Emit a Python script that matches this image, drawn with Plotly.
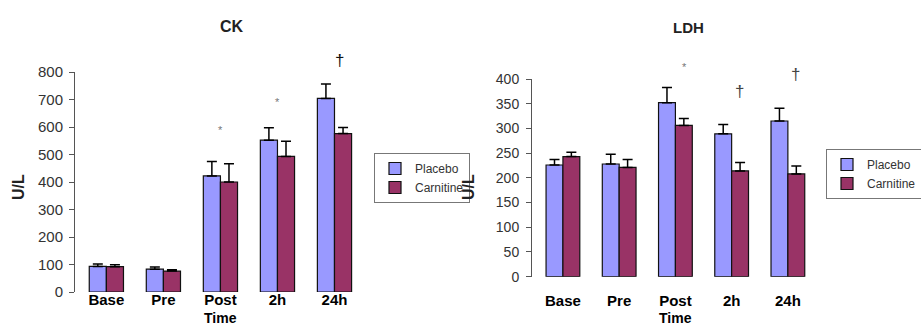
import plotly.graph_objects as go

W, H = 921, 327

categories = ["Base", "Pre", "Post", "2h", "24h"]

ck_placebo = [93, 83, 422, 552, 704]
ck_placebo_err = [9, 8, 53, 45, 52]
ck_carnitine = [92, 76, 400, 493, 576]
ck_carnitine_err = [7, 5, 66, 55, 22]
ck_sig_labels = ["", "", "*", "*", "†"]
ck_sig_y = [0, 0, 590, 690, 843]
ck_range = [0, 800]

ldh_placebo = [226, 228, 352, 289, 315]
ldh_placebo_err = [11, 20, 31, 19, 26]
ldh_carnitine = [243, 221, 306, 214, 208]
ldh_carnitine_err = [9, 16, 14, 17, 16]
ldh_sig_labels = ["", "", "*", "†", "†"]
ldh_sig_y = [0, 0, 425, 374, 410]
ldh_range = [0, 400]

PLACEBO = "#9999FF"
CARN = "#993366"
FONT = "Liberation Sans, Arial, sans-serif"

fig = go.Figure()

def add_bars(vals, errs, name, color, xa, ya, legend):
    fig.add_trace(go.Bar(
        x=categories, y=vals, name=name, xaxis=xa, yaxis=ya, legend=legend,
        marker=dict(color=color, line=dict(color="#111", width=1.2)),
        error_y=dict(type="data", array=errs, arrayminus=[0]*len(errs), symmetric=False,
                     color="black", thickness=1.5, width=5),
    ))

add_bars(ck_placebo, ck_placebo_err, "Placebo", PLACEBO, "x", "y", "legend")
add_bars(ck_carnitine, ck_carnitine_err, "Carnitine", CARN, "x", "y", "legend")
add_bars(ldh_placebo, ldh_placebo_err, "Placebo", PLACEBO, "x2", "y2", "legend2")
add_bars(ldh_carnitine, ldh_carnitine_err, "Carnitine", CARN, "x2", "y2", "legend2")

def px_x(p):
    return p / W

def px_y(p):
    return 1 - p / H

yaxis_common = dict(showgrid=False, zeroline=False, showline=True, linecolor="#555", linewidth=1,
                    automargin=False)
xaxis_common = dict(showgrid=False, zeroline=False, showline=False, automargin=False)

xcat_range = [-0.55, len(categories) - 0.5]

fig.update_layout(
    width=W, height=H, margin=dict(l=0, r=0, t=0, b=0, autoexpand=False),
    paper_bgcolor="white", plot_bgcolor="white",
    barmode="group", bargap=0.4, bargroupgap=0,
    font=dict(family=FONT, color="#222"),
    xaxis=dict(domain=[px_x(75), px_x(363)], anchor="y", range=xcat_range, **xaxis_common,
               ticks="", tickfont=dict(size=15, family=FONT, color="black", weight="bold"),
               ticklabelstandoff=-3),
    yaxis=dict(domain=[px_y(292), px_y(72)], anchor="x", range=ck_range, dtick=100, **yaxis_common,
               ticks="outside", ticklen=5, tickcolor="#555", ticklabelstandoff=3,
               tickfont=dict(size=15, family=FONT, color="#333")),
    xaxis2=dict(domain=[px_x(532), px_x(816)], anchor="y2", range=xcat_range, **xaxis_common,
                ticks="", tickfont=dict(size=15, family=FONT, color="black", weight="bold"),
                ticklabelstandoff=13),
    yaxis2=dict(domain=[px_y(276.7), px_y(79)], anchor="x2", range=ldh_range, dtick=50, **yaxis_common,
                ticks="outside", ticklen=5, tickcolor="#555", ticklabelstandoff=4,
                tickfont=dict(size=14, family=FONT, color="#333")),
    legend=dict(x=px_x(374), y=px_y(153), xanchor="left", yanchor="top",
                bordercolor="#777", borderwidth=1, font=dict(size=12, family=FONT, color="#333"),
                itemwidth=30, tracegroupgap=0, bgcolor="white"),
    legend2=dict(x=px_x(826), y=px_y(149), xanchor="left", yanchor="top",
                 bordercolor="#777", borderwidth=1, font=dict(size=12, family=FONT, color="#333"),
                 itemwidth=30, tracegroupgap=0, bgcolor="white"),
)

ann = []
def txt(text, x, y, size, color="#222", angle=0):
    ann.append(dict(text=text, x=px_x(x), y=px_y(y), xref="paper", yref="paper",
                    xanchor="center", yanchor="middle", showarrow=False, textangle=angle,
                    font=dict(size=size, family=FONT, color=color)))

txt("<b>CK</b>", 232, 27, 16)
txt("<b>LDH</b>", 688, 28, 15)
txt("<b>U/L</b>", 18, 187, 16, angle=-90)
txt("<b>U/L</b>", 468, 187, 16, angle=-90)
txt("<b>Time</b>", 220, 318, 14, color="black")
txt("<b>Time</b>", 675, 318, 14, color="black")

# significance markers (y given in data units, placed via domain fraction so they may sit above the range)
for cat, lab, yv in zip(categories, ck_sig_labels, ck_sig_y):
    if lab:
        ann.append(dict(text=lab, x=cat, y=yv / ck_range[1], xref="x", yref="y domain", showarrow=False,
                        xanchor="center", yanchor="middle",
                        xshift=5 if lab == "†" else 0,
                        font=dict(size=17 if lab == "†" else 11, family=FONT,
                                  color="#111" if lab == "†" else "#777")))
for cat, lab, yv in zip(categories, ldh_sig_labels, ldh_sig_y):
    if lab:
        ann.append(dict(text=lab, x=cat, y=yv / ldh_range[1], xref="x2", yref="y2 domain", showarrow=False,
                        xanchor="center", yanchor="middle",
                        xshift=8 if lab == "†" else 9,
                        font=dict(size=17 if lab == "†" else 11, family=FONT,
                                  color="#444" if lab == "†" else "#777")))
fig.update_layout(annotations=ann)

fig.write_html("out.html", config={"displayModeBar": False},
               post_script="document.body.style.margin='0';")
